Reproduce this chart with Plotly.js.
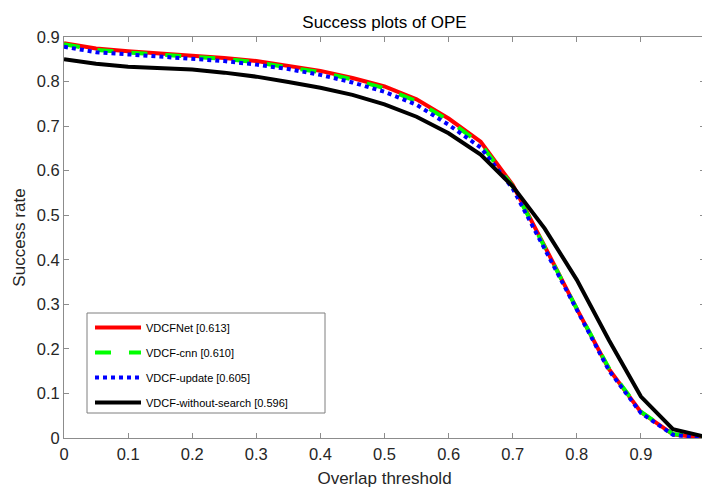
<!DOCTYPE html>
<html>
<head>
<meta charset="utf-8">
<script src="https://cdn.plot.ly/plotly-3.0.1.min.js"></script>
<style>html,body{margin:0;padding:0;overflow:hidden;background:#fff}</style>
</head>
<body>
<div id="chart"></div>
<script>
const thresholds = [0,0.05,0.1,0.15,0.2,0.25,0.3,0.35,0.4,0.45,0.5,0.55,0.6,0.65,0.7,0.75,0.8,0.85,0.9,0.95,1.0];
const vdcfnet = [0.886,0.874,0.868,0.863,0.859,0.853,0.846,0.836,0.824,0.808,0.789,0.760,0.717,0.665,0.568,0.430,0.290,0.155,0.058,0.008,0.000];
const vdcfCnn = [0.884,0.871,0.865,0.861,0.856,0.851,0.843,0.833,0.821,0.805,0.785,0.756,0.713,0.660,0.565,0.428,0.290,0.157,0.059,0.009,0.001];
const vdcfUpdate = [0.878,0.866,0.861,0.856,0.851,0.846,0.838,0.828,0.815,0.798,0.777,0.748,0.703,0.652,0.560,0.425,0.287,0.152,0.056,0.007,0.000];
const vdcfNoSearch = [0.850,0.840,0.833,0.830,0.827,0.820,0.811,0.799,0.786,0.770,0.749,0.721,0.684,0.636,0.565,0.470,0.355,0.220,0.093,0.020,0.003];
const names = ['VDCFNet [0.613]','VDCF-cnn [0.610]','VDCF-update [0.605]','VDCF-without-search [0.596]'];
const tickVals = [0,0.1,0.2,0.3,0.4,0.5,0.6,0.7,0.8,0.9];
const tickText = ['0','0.1','0.2','0.3','0.4','0.5','0.6','0.7','0.8','0.9'];

const font = 'Liberation Sans, Arial, sans-serif';
const traces = [
  {x: thresholds, y: vdcfnet, name: names[0], mode: 'lines', line: {color: '#ff0000', width: 4}},
  {x: thresholds, y: vdcfCnn, name: names[1], mode: 'lines', line: {color: '#00ff00', width: 4, dash: '16px,18px'}},
  {x: thresholds, y: vdcfUpdate, name: names[2], mode: 'lines', line: {color: '#0000ff', width: 4, dash: '4px,4px'}},
  {x: thresholds, y: vdcfNoSearch, name: names[3], mode: 'lines', line: {color: '#000000', width: 4}}
];
traces.forEach((t, i) => { t.legendgroup = 'g' + i; });

const axisCommon = {
  showgrid: false, zeroline: false, showline: true, linecolor: '#8c8c8c', linewidth: 1,
  mirror: 'ticks', ticks: 'inside', ticklen: 5, tickcolor: '#8c8c8c',
  tickfont: {family: font, size: 16.5, color: '#262626'}
};

// plot area: x 64..705, y 37..438
const PL = 64, PR = 705, PT = 37, PB = 438;
const px = v => (v - PL) / (PR - PL);
const py = v => (PB - v) / (PB - PT);

const layout = {
  width: 710, height: 489,
  margin: {l: PL, r: 710 - PR, t: PT, b: 489 - PB},
  paper_bgcolor: '#fff', plot_bgcolor: '#fff',
  title: {text: 'Success plots of OPE', font: {family: font, size: 17, color: '#000'}, xref: 'paper', x: 0.5, xanchor: 'center', y: 1 - 22/489, yanchor: 'middle'},
  xaxis: Object.assign({}, axisCommon, {range: [0, 1], tickvals: tickVals, ticktext: tickText, ticklabelstandoff: 1,
    title: {text: 'Overlap threshold', font: {family: font, size: 17, color: '#262626'}, standoff: 10}}),
  yaxis: Object.assign({}, axisCommon, {range: [0, 0.9], tickvals: tickVals, ticktext: tickText,
    title: {text: 'Success rate', font: {family: font, size: 17, color: '#262626'}, standoff: 6}}),
  shapes: [{type: 'rect', xref: 'paper', yref: 'paper', x0: px(87), x1: px(325), y0: py(413), y1: py(313),
    line: {color: '#7f7f7f', width: 1}, fillcolor: '#ffffff', layer: 'above'}],
  legend: {x: px(90), xanchor: 'left', y: py(313), yanchor: 'top', bgcolor: 'rgba(0,0,0,0)', borderwidth: 0,
    font: {family: font, size: 11, color: '#000'}, itemwidth: 46, tracegroupgap: 6},
  showlegend: true
};

Plotly.newPlot('chart', traces, layout, {displayModeBar: false, staticPlot: true});
</script>
</body>
</html>
